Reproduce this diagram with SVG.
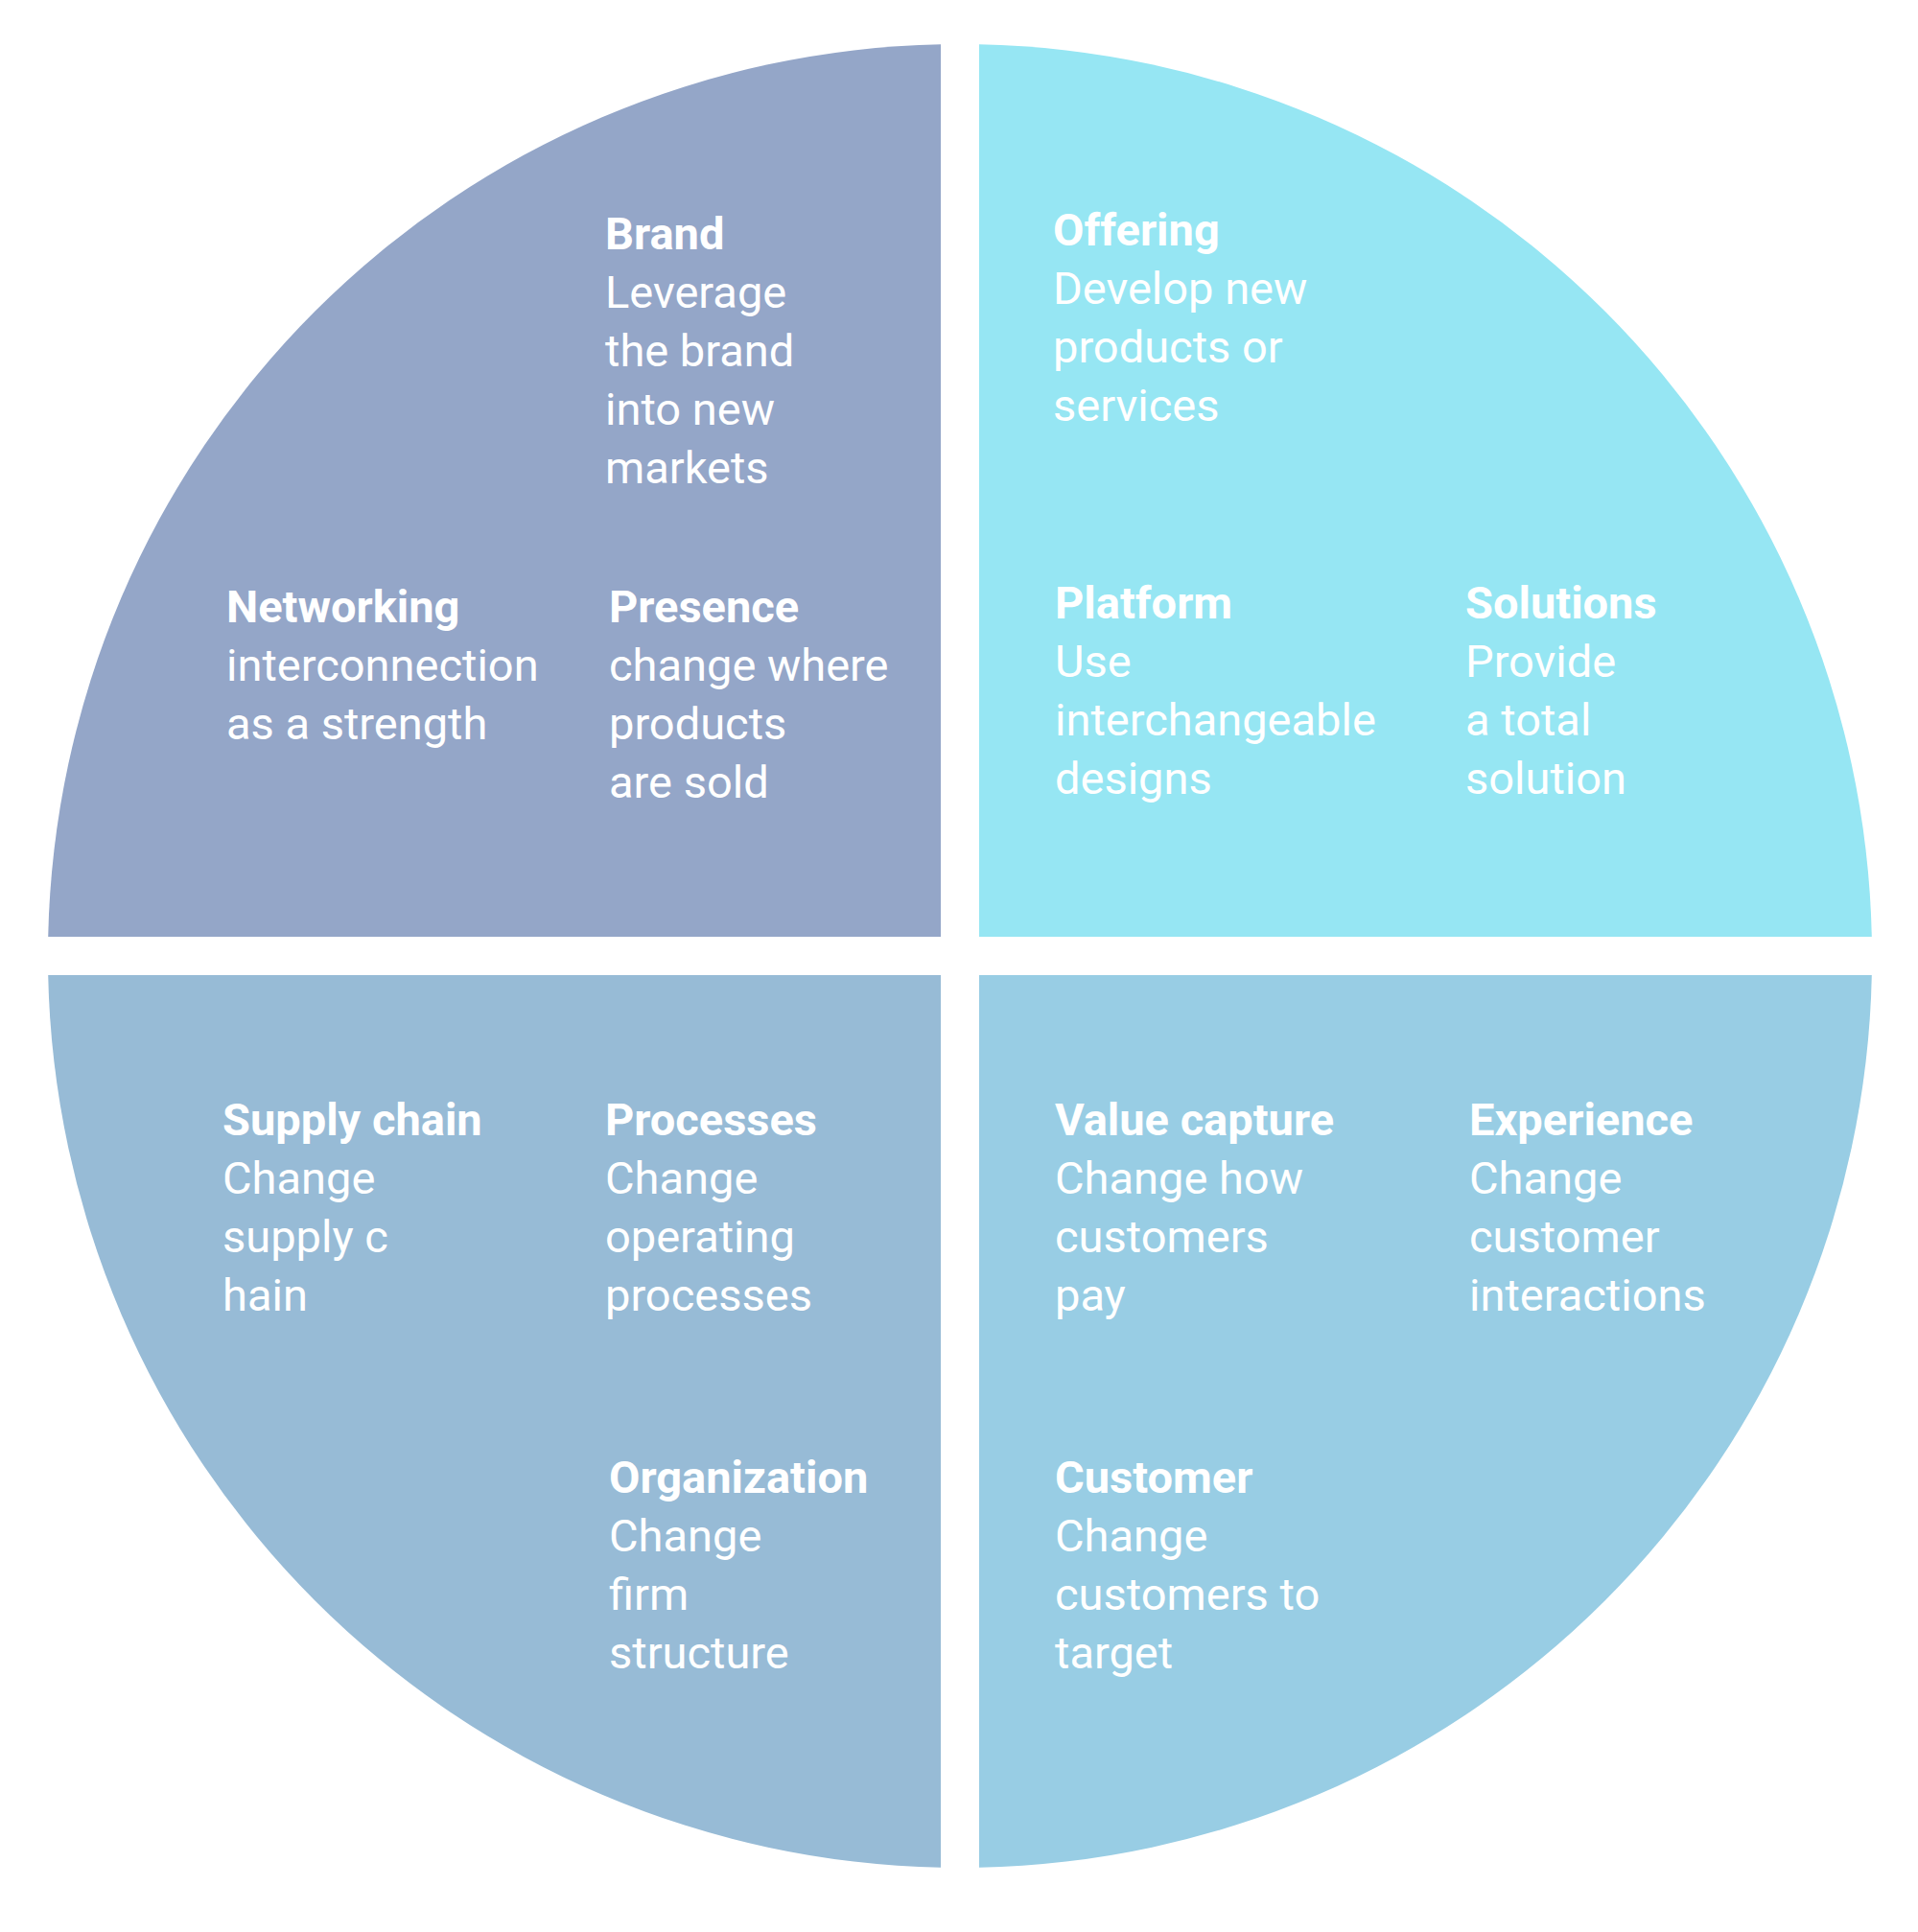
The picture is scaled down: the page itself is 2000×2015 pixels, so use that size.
<svg xmlns="http://www.w3.org/2000/svg" width="2000" height="2015" viewBox="0 0 2000 2015">
<style>
text{font-family:Roboto,"Liberation Sans",sans-serif;font-size:47px;fill:#fff}
.t{font-weight:bold}
</style>
<rect width="2000" height="2015" fill="#fff"/>
<g id="q-tl"><path d="M981,977 L50.2,977 A951,951 0 0 1 981,46.2 Z" fill="#94a6c8"/></g>
<g id="q-tr"><path d="M1021,977 L1021,46.2 A951,951 0 0 1 1951.8,977 Z" fill="#96e6f3"/></g>
<g id="q-bl"><path d="M981,1017 L981,1947.8 A951,951 0 0 1 50.2,1017 Z" fill="#97bbd6"/></g>
<g id="q-br"><path d="M1021,1017 L1951.8,1017 A951,951 0 0 1 1021,1947.8 Z" fill="#98cde4"/></g>
<g id="connectors"/>
<g id="brand"><text x="631" y="260"><tspan class="t">Brand</tspan><tspan x="631" dy="61">Leverage</tspan><tspan x="631" dy="61">the brand</tspan><tspan x="631" dy="61">into new</tspan><tspan x="631" dy="61">markets</tspan></text></g>
<g id="networking"><text x="236" y="649"><tspan class="t">Networking</tspan><tspan x="236" dy="61">interconnection</tspan><tspan x="236" dy="61">as a strength</tspan></text></g>
<g id="presence"><text x="635" y="649"><tspan class="t">Presence</tspan><tspan x="635" dy="61">change where</tspan><tspan x="635" dy="61">products</tspan><tspan x="635" dy="61">are sold</tspan></text></g>
<g id="offering"><text x="1098" y="256"><tspan class="t">Offering</tspan><tspan x="1098" dy="61">Develop new</tspan><tspan x="1098" dy="61">products or</tspan><tspan x="1098" dy="61">services</tspan></text></g>
<g id="platform"><text x="1100" y="645"><tspan class="t">Platform</tspan><tspan x="1100" dy="61">Use</tspan><tspan x="1100" dy="61">interchangeable</tspan><tspan x="1100" dy="61">designs</tspan></text></g>
<g id="solutions"><text x="1528" y="645"><tspan class="t">Solutions</tspan><tspan x="1528" dy="61">Provide</tspan><tspan x="1528" dy="61">a total</tspan><tspan x="1528" dy="61">solution</tspan></text></g>
<g id="supply"><text x="232" y="1184"><tspan class="t">Supply chain</tspan><tspan x="232" dy="61">Change</tspan><tspan x="232" dy="61">supply c</tspan><tspan x="232" dy="61">hain</tspan></text></g>
<g id="processes"><text x="631" y="1184"><tspan class="t">Processes</tspan><tspan x="631" dy="61">Change</tspan><tspan x="631" dy="61">operating</tspan><tspan x="631" dy="61">processes</tspan></text></g>
<g id="value"><text x="1100" y="1184"><tspan class="t">Value capture</tspan><tspan x="1100" dy="61">Change how</tspan><tspan x="1100" dy="61">customers</tspan><tspan x="1100" dy="61">pay</tspan></text></g>
<g id="experience"><text x="1532" y="1184"><tspan class="t">Experience</tspan><tspan x="1532" dy="61">Change</tspan><tspan x="1532" dy="61">customer</tspan><tspan x="1532" dy="61">interactions</tspan></text></g>
<g id="organization"><text x="635" y="1557"><tspan class="t">Organization</tspan><tspan x="635" dy="61">Change</tspan><tspan x="635" dy="61">firm</tspan><tspan x="635" dy="61">structure</tspan></text></g>
<g id="customer"><text x="1100" y="1557"><tspan class="t">Customer</tspan><tspan x="1100" dy="61">Change</tspan><tspan x="1100" dy="61">customers to</tspan><tspan x="1100" dy="61">target</tspan></text></g>
</svg>
